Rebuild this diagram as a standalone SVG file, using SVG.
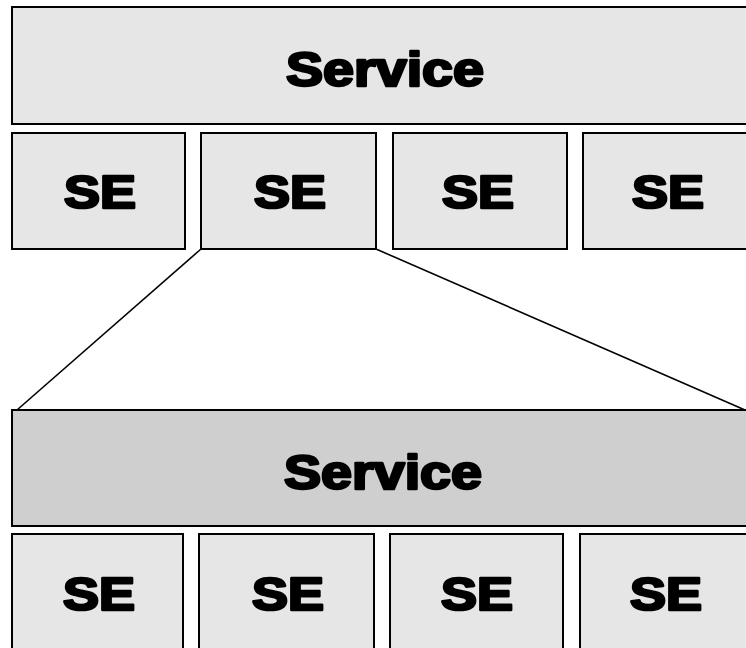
<svg xmlns="http://www.w3.org/2000/svg" width="746" height="648" viewBox="0 0 746 648">
<style>
.box{fill:#e6e6e6;stroke:#000;stroke-width:2}
.dark{fill:#cfcfcf}
.lbl{font-family:"Liberation Sans",Arial,sans-serif;font-weight:bold;fill:#000;stroke:#000;stroke-width:2.6;stroke-linejoin:round;text-anchor:middle}
.svc{font-size:48px}
.se{font-size:46px}
.conn{stroke:#000;stroke-width:1.6;fill:none}
</style>
<rect width="746" height="648" fill="#fff"/>
<g id="connectors">
<line class="conn" x1="201" y1="249" x2="17" y2="410"/>
<line class="conn" x1="376" y1="249" x2="745" y2="410"/>
</g>
<g id="service-top"><rect class="box" x="12" y="7" width="750" height="117"/><text class="lbl svc" x="385" y="86" textLength="198" lengthAdjust="spacingAndGlyphs">Service</text></g>
<g id="se-top-1"><rect class="box" x="12" y="133" width="173" height="116"/><text class="lbl se" x="100" y="208" textLength="72" lengthAdjust="spacingAndGlyphs">SE</text></g>
<g id="se-top-2"><rect class="box" x="201" y="133" width="175" height="116"/><text class="lbl se" x="290" y="208" textLength="72" lengthAdjust="spacingAndGlyphs">SE</text></g>
<g id="se-top-3"><rect class="box" x="393" y="133" width="174" height="116"/><text class="lbl se" x="478" y="208" textLength="72" lengthAdjust="spacingAndGlyphs">SE</text></g>
<g id="se-top-4"><rect class="box" x="583" y="133" width="174" height="116"/><text class="lbl se" x="668" y="208" textLength="72" lengthAdjust="spacingAndGlyphs">SE</text></g>
<g id="service-bottom"><rect class="box dark" x="12" y="410" width="750" height="116"/><text class="lbl svc" x="383" y="489" textLength="198" lengthAdjust="spacingAndGlyphs">Service</text></g>
<g id="se-bot-1"><rect class="box" x="12" y="534" width="171" height="130"/><text class="lbl se" x="99" y="610" textLength="72" lengthAdjust="spacingAndGlyphs">SE</text></g>
<g id="se-bot-2"><rect class="box" x="199" y="534" width="175" height="130"/><text class="lbl se" x="288" y="610" textLength="72" lengthAdjust="spacingAndGlyphs">SE</text></g>
<g id="se-bot-3"><rect class="box" x="390" y="534" width="173" height="130"/><text class="lbl se" x="477" y="610" textLength="72" lengthAdjust="spacingAndGlyphs">SE</text></g>
<g id="se-bot-4"><rect class="box" x="580" y="534" width="174" height="130"/><text class="lbl se" x="666" y="610" textLength="72" lengthAdjust="spacingAndGlyphs">SE</text></g>
</svg>
